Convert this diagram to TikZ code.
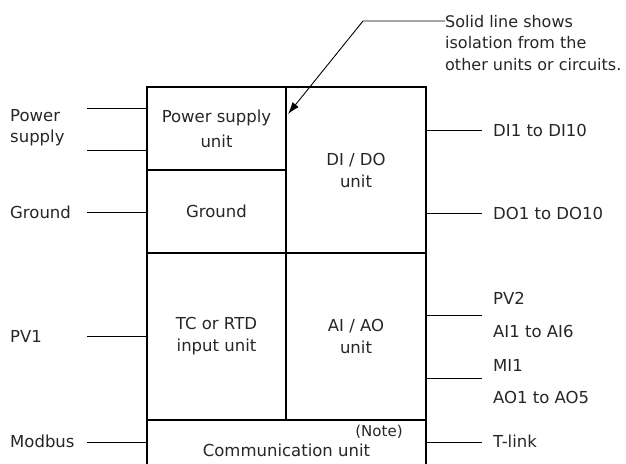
\documentclass[tikz,border=0pt]{standalone}
\usepackage{fontspec}
\setmainfont{DejaVu Sans}
\usetikzlibrary{arrows.meta}
\begin{document}
\begin{tikzpicture}[x=1pt,y=-1pt,
  every node/.style={font=\fontsize{16.5}{22}\selectfont, text=black!85},
  cell/.style={draw=black, line width=1.1pt, rectangle, inner sep=0pt, align=center},
  lbl/.style={inner sep=0pt, anchor=west, align=left},
  wire/.style={draw=black, line width=1pt},
  arrowline/.style={draw=black, line width=0.9pt, -{Latex[length=12pt,width=8pt]}}]
\useasboundingbox (0,0) rectangle (626,463);
% cells
\node[cell, minimum width=139pt, minimum height=83pt, font=\fontsize{16.5}{25}\selectfont] (psu) at (216.5,128.5) {Power supply\\unit};
\node[cell, minimum width=139pt, minimum height=83pt] (gnd) at (216.5,211.5) {Ground};
\node[cell, minimum width=139pt, minimum height=167pt] (tc) at (216.5,336.5) {TC or RTD\\input unit};
\node[cell, minimum width=140pt, minimum height=166pt] (dido) at (356,170) {DI / DO\\unit};
\node[cell, minimum width=140pt, minimum height=167pt] (aiao) at (356,336.5) {AI / AO\\unit};
\node[cell, minimum width=279pt, minimum height=60pt] (comm) at (286.5,450) {Communication unit};
\node[inner sep=0pt, font=\fontsize{15}{16}\selectfont] (notemark) at (379,432) {(Note)};
% left labels
\node[lbl, font=\fontsize{16.5}{21}\selectfont] (lps) at (10,128) {Power\\supply};
\node[lbl] (lgnd) at (10,212) {Ground};
\node[lbl] (lpv1) at (10,336) {PV1};
\node[lbl] (lmod) at (10,441) {Modbus};
% right labels
\node[lbl] (rdi) at (493,130) {DI1 to DI10};
\node[lbl] (rdo) at (493,213) {DO1 to DO10};
\node[lbl] (rpv2) at (493,298) {PV2};
\node[lbl] (rai) at (493,331) {AI1 to AI6};
\node[lbl] (rmi) at (493,365) {MI1};
\node[lbl] (rao) at (493,397) {AO1 to AO5};
\node[lbl] (rtl) at (493,441) {T-link};
% annotation
\node[lbl, font=\fontsize{16}{21.5}\selectfont] (note) at (445,43) {Solid line shows\\isolation from the\\other units or circuits.};
% free ends
\coordinate (p1) at (87,108);
\coordinate (p2) at (87,150);
\coordinate (g1) at (87,212);
\coordinate (v1) at (87,336);
\coordinate (m1) at (87,442);
\coordinate (d1) at (482,130);
\coordinate (d2) at (482,213);
\coordinate (a1) at (482,315);
\coordinate (a2) at (482,378);
\coordinate (t1) at (482,442);
\coordinate (nstart) at (445,21);
\coordinate (bend) at (363,21);
\coordinate (tip) at (288,114);
% wires
\draw[wire] (p1) -- (p1 -| psu.west);
\draw[wire] (p2) -- (p2 -| psu.west);
\draw[wire] (g1) -- (g1 -| gnd.west);
\draw[wire] (v1) -- (v1 -| tc.west);
\draw[wire] (m1) -- (m1 -| comm.west);
\draw[wire] (d1) -- (d1 -| dido.east);
\draw[wire] (d2) -- (d2 -| dido.east);
\draw[wire] (a1) -- (a1 -| aiao.east);
\draw[wire] (a2) -- (a2 -| aiao.east);
\draw[wire] (t1) -- (t1 -| comm.east);
\draw[arrowline] (nstart) -- (bend) -- (tip);
\end{tikzpicture}
\end{document}
